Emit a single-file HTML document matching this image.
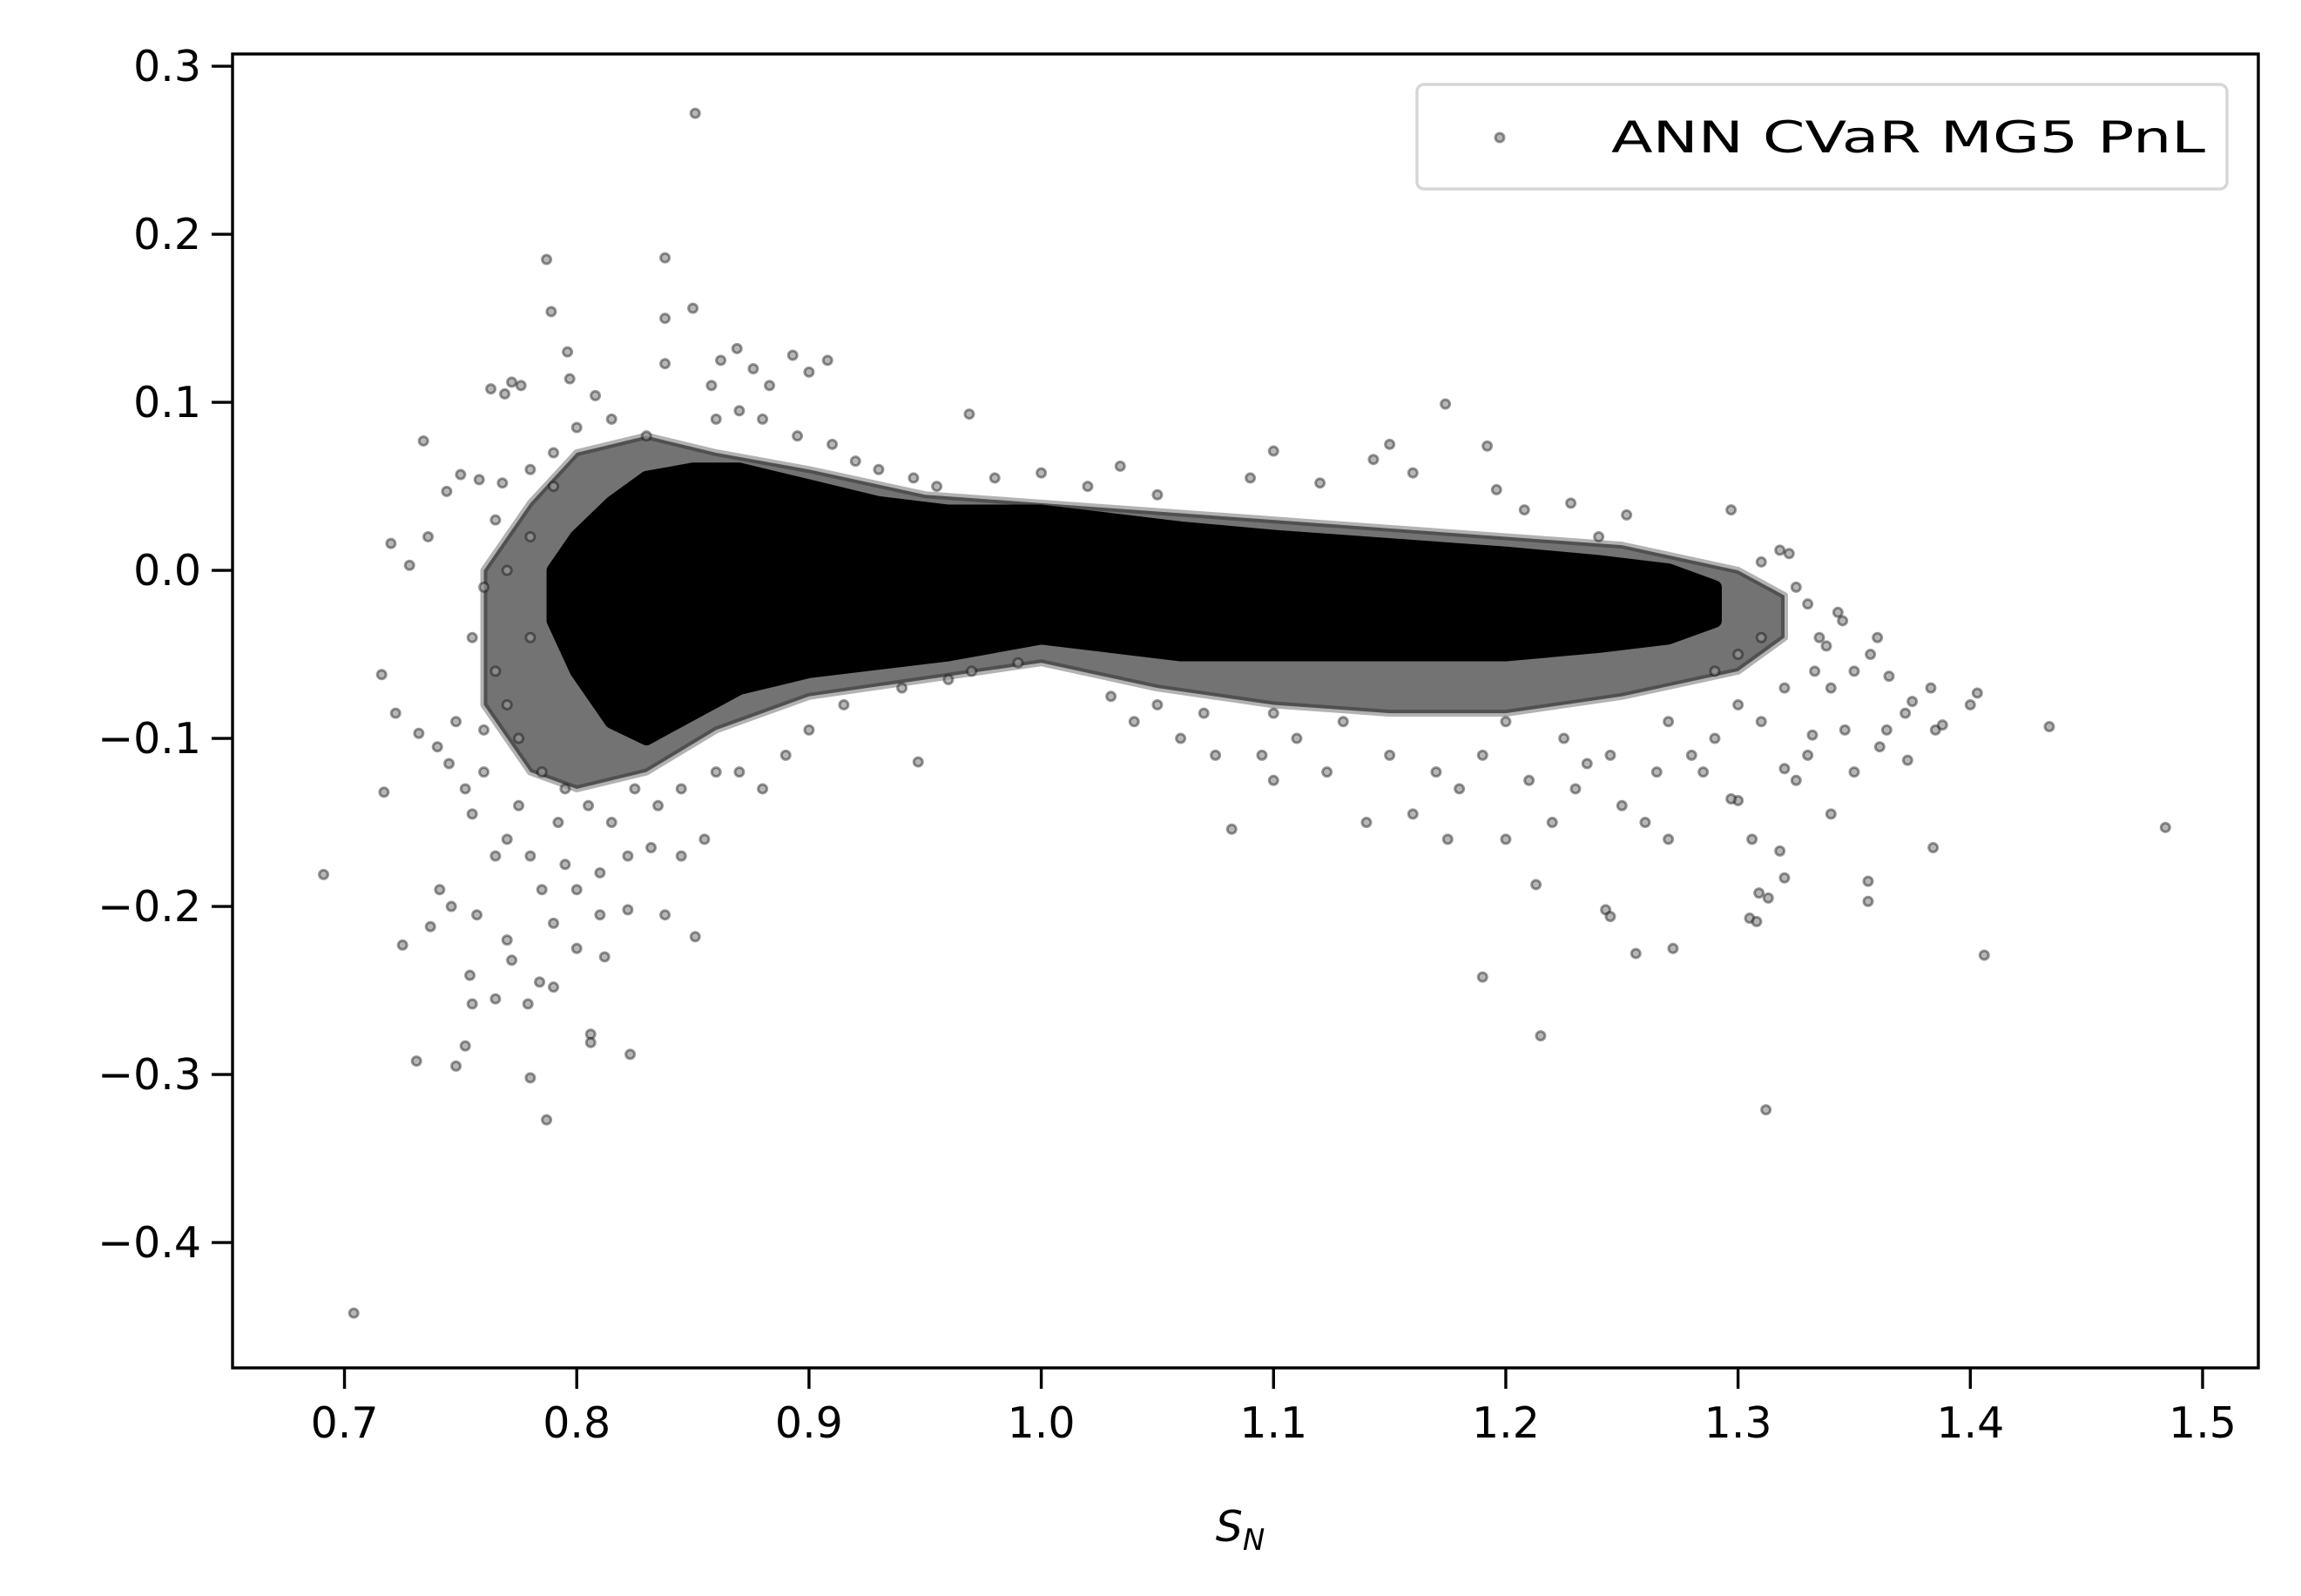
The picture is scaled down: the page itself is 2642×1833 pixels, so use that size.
<!DOCTYPE html>
<html><head><meta charset="utf-8"><style>body{margin:0;background:#fff}svg{display:block}</style></head>
<body>
<svg id="chart" width="2642" height="1833" xmlns="http://www.w3.org/2000/svg" font-family="'DejaVu Sans','Liberation Sans',sans-serif">
<rect width="2642" height="1833" fill="#fff"/>
<g id="plot"></g>
<g id="axes"></g>
</svg>
<script>
const xTicks=[0.7,0.8,0.9,1.0,1.1,1.2,1.3,1.4,1.5];
const xTickLabels=["0.7","0.8","0.9","1.0","1.1","1.2","1.3","1.4","1.5"];
const yTicks=[0.3,0.2,0.1,0.0,-0.1,-0.2,-0.3,-0.4];
const yTickLabels=["0.3","0.2","0.1","0.0","\u22120.1","\u22120.2","\u22120.3","\u22120.4"];
const coreX=[0.79,0.80,0.815,0.83,0.85,0.87,0.90,0.93,0.96,1.00,1.03,1.06,1.10,1.15,1.20,1.24,1.27,1.29];
const coreHi=[0.0,0.02,0.04,0.055,0.06,0.06,0.05,0.04,0.035,0.035,0.03,0.025,0.02,0.015,0.01,0.005,0.0,-0.01];
const coreLo=[-0.03,-0.06,-0.09,-0.10,-0.085,-0.07,-0.06,-0.055,-0.05,-0.04,-0.045,-0.05,-0.05,-0.05,-0.05,-0.045,-0.04,-0.03];
const haloX=[0.76,0.78,0.80,0.83,0.86,0.90,0.95,1.00,1.05,1.10,1.15,1.20,1.25,1.30,1.32];
const haloHi=[0.0,0.04,0.07,0.08,0.07,0.06,0.045,0.04,0.035,0.03,0.025,0.02,0.015,0.0,-0.015];
const haloLo=[-0.08,-0.12,-0.13,-0.12,-0.095,-0.075,-0.065,-0.055,-0.07,-0.08,-0.085,-0.085,-0.075,-0.06,-0.04];
const pts=[[0.851,0.272],[0.787,0.185],[0.838,0.186],[0.789,0.154],[0.850,0.156],[0.838,0.150],[0.796,0.130],[0.869,0.132],[0.862,0.125],[0.893,0.128],[0.908,0.125],[0.838,0.123],[0.876,0.120],[0.772,0.112],[0.776,0.110],[0.763,0.108],[0.769,0.105],[0.797,0.114],[0.808,0.104],[0.858,0.110],[0.900,0.118],[0.883,0.110],[0.734,0.077],[0.969,0.093],[1.174,0.099],[1.192,0.074],[1.150,0.075],[1.100,0.071],[1.143,0.066],[1.034,0.062],[0.758,0.054],[0.744,0.047],[0.750,0.057],[0.768,0.052],[0.720,0.016],[0.736,0.020],[0.728,0.003],[0.716,-0.062],[0.722,-0.085],[0.717,-0.132],[0.732,-0.097],[0.740,-0.105],[0.748,-0.090],[0.745,-0.115],[0.752,-0.130],[0.760,-0.120],[0.755,-0.145],[0.770,-0.160],[0.780,-0.170],[0.792,-0.150],[0.800,-0.190],[0.810,-0.180],[0.822,-0.170],[0.832,-0.165],[0.845,-0.170],[0.855,-0.160],[0.741,-0.190],[0.746,-0.200],[0.725,-0.223],[0.737,-0.212],[0.757,-0.205],[0.770,-0.220],[0.790,-0.210],[0.800,-0.225],[0.812,-0.230],[0.822,-0.202],[0.838,-0.205],[0.851,-0.218],[0.731,-0.292],[0.748,-0.295],[0.752,-0.283],[0.755,-0.258],[0.754,-0.241],[0.765,-0.255],[0.772,-0.232],[0.779,-0.258],[0.784,-0.245],[0.790,-0.248],[0.806,-0.276],[0.806,-0.281],[0.823,-0.288],[0.780,-0.302],[0.787,-0.327],[0.691,-0.181],[0.704,-0.442],[0.947,-0.114],[0.880,-0.130],[0.870,-0.120],[0.890,-0.110],[1.190,-0.242],[1.215,-0.277],[1.213,-0.187],[1.243,-0.202],[1.245,-0.206],[1.256,-0.228],[1.272,-0.225],[1.305,-0.207],[1.308,-0.209],[1.309,-0.192],[1.313,-0.195],[1.312,-0.321],[1.320,-0.183],[1.318,-0.167],[1.306,-0.160],[1.300,-0.137],[1.297,-0.136],[1.320,-0.118],[1.325,-0.125],[1.332,-0.098],[1.330,-0.110],[1.340,-0.145],[1.346,-0.095],[1.350,-0.120],[1.356,-0.185],[1.356,-0.197],[1.361,-0.105],[1.365,-0.063],[1.357,-0.050],[1.360,-0.040],[1.343,-0.025],[1.340,-0.070],[1.333,-0.060],[1.345,-0.030],[1.372,-0.085],[1.375,-0.078],[1.385,-0.095],[1.384,-0.165],[1.388,-0.092],[1.383,-0.070],[1.400,-0.080],[1.403,-0.073],[1.406,-0.229],[1.434,-0.093],[1.484,-0.153],[1.297,0.036],[1.318,0.012],[1.310,0.005],[1.322,0.010],[1.325,-0.010],[1.330,-0.020],[1.335,-0.040],[1.338,-0.045],[1.350,-0.060],[1.364,-0.095],[1.373,-0.113],[1.196,0.048],[1.208,0.036],[1.252,0.033],[1.228,0.040],[1.120,0.052],[1.160,0.058],[1.090,0.055],[1.240,0.020],[1.270,-0.160],[1.260,-0.150],[1.250,-0.140],[1.230,-0.130],[1.220,-0.150],[1.200,-0.160],[1.175,-0.160],[1.180,-0.130],[1.160,-0.145],[1.140,-0.150],[1.123,-0.120],[1.100,-0.125],[1.082,-0.154],[1.095,-0.110],[1.060,-0.100],[1.040,-0.090],[1.030,-0.075],[1.075,-0.110],[1.110,-0.100],[1.150,-0.110],[1.170,-0.120],[1.190,-0.110],[1.210,-0.125],[1.235,-0.115],[1.265,-0.120],[1.280,-0.110],[1.290,-0.100],[1.285,-0.120],[1.225,-0.100],[1.245,-0.110],[1.200,-0.090],[1.130,-0.090],[1.100,-0.085],[1.070,-0.085],[1.050,-0.080],[1.270,-0.090],[1.300,-0.080],[1.310,-0.090],[1.320,-0.070],[1.300,-0.050],[1.310,-0.040],[1.290,-0.060],[0.960,-0.065],[0.940,-0.070],[0.915,-0.080],[0.900,-0.095],[0.970,-0.060],[0.990,-0.055],[0.930,0.060],[0.945,0.055],[0.955,0.050],[0.980,0.055],[1.000,0.058],[1.020,0.050],[1.050,0.045],[0.880,0.090],[0.870,0.095],[0.860,0.090],[0.830,0.080],[0.815,0.090],[0.800,0.085],[0.790,0.070],[0.780,0.060],[0.895,0.080],[0.910,0.075],[0.920,0.065],[0.765,0.030],[0.760,-0.010],[0.755,-0.040],[0.765,-0.060],[0.770,-0.080],[0.775,-0.100],[0.760,-0.095],[0.785,-0.120],[0.795,-0.130],[0.805,-0.140],[0.815,-0.150],[0.825,-0.130],[0.835,-0.140],[0.845,-0.130],[0.860,-0.120],[0.775,-0.140],[0.765,-0.170],[0.785,-0.190],[0.810,-0.205],[0.795,-0.175],[0.780,0.020],[0.770,0.000],[0.790,0.050],[0.780,-0.040]];

const L=267,R=2593,T=62,B=1571;
const X0=0.6518,X1=1.524,Y0=-0.4746,Y1=0.3073;
const sx=v=>L+(v-X0)/(X1-X0)*(R-L);
const sy=v=>B-(v-Y0)/(Y1-Y0)*(B-T);
const NS="http://www.w3.org/2000/svg";
const plot=document.getElementById('plot'),axes=document.getElementById('axes');
function mk(tag,attrs,parent){const e=document.createElementNS(NS,tag);for(const k in attrs)e.setAttribute(k,attrs[k]);parent.appendChild(e);return e;}

function bandPath(xs,hi,lo){
  let d="M"+sx(xs[0])+","+sy(hi[0]);
  for(let i=1;i<xs.length;i++)d+=" L"+sx(xs[i])+","+sy(hi[i]);
  for(let i=xs.length-1;i>=0;i--)d+=" L"+sx(xs[i])+","+sy(lo[i]);
  return d+"Z";
}
const halo=mk('path',{d:bandPath(haloX,haloHi,haloLo),fill:'#000','fill-opacity':0.55,stroke:'#000','stroke-opacity':0.3,'stroke-width':8,'stroke-linejoin':'round'},plot);


const core=mk('path',{d:bandPath(coreX,coreHi,coreLo),fill:'#000',stroke:'#000','stroke-width':16,'stroke-linejoin':'round'},plot);


pts.forEach(p=>{
  const c=mk('circle',{cx:sx(p[0]),cy:sy(p[1]),r:5,fill:'#999','fill-opacity':0.7,stroke:'#000','stroke-opacity':0.4,'stroke-width':3},plot);
  
  
});

const frame=mk('rect',{x:L,y:T,width:R-L,height:B-T,fill:'none',stroke:'#000','stroke-width':3.4},axes);


xTicks.forEach((v,i)=>{
  const x=sx(v);
  const t=mk('line',{x1:x,x2:x,y1:B,y2:B+24,stroke:'#000','stroke-width':3.4},axes);
  
  
  const l=mk('text',{x:x,y:B+80,'text-anchor':'middle','font-size':49},axes);
  l.textContent=xTickLabels[i];
  
  
});
yTicks.forEach((v,i)=>{
  const y=sy(v);
  const t=mk('line',{x1:L-24,x2:L,y1:y,y2:y,stroke:'#000','stroke-width':3.4},axes);
  
  
  const l=mk('text',{x:L-36,y:y+17,'text-anchor':'end','font-size':49},axes);
  l.textContent=yTickLabels[i];
  
  
});
const xl=mk('text',{x:1424,y:1770,'text-anchor':'middle','font-size':49,'font-style':'italic'},axes);
xl.innerHTML='S<tspan font-size="34" dy="10">N</tspan>';



const lg=mk('g',{},axes);


mk('rect',{x:1627,y:97,width:930,height:120,rx:8,fill:'#fff','fill-opacity':0.8,stroke:'#d6d6d6','stroke-width':3.4},lg);
const lm=mk('circle',{cx:1722,cy:158,r:5,fill:'#999','fill-opacity':0.7,stroke:'#000','stroke-opacity':0.4,'stroke-width':3},lg);


const lt=mk('text',{x:1850,y:175,'font-size':50,textLength:682,lengthAdjust:'spacingAndGlyphs'},lg);
lt.textContent='ANN CVaR MG5 PnL';


</script>
</body></html>
